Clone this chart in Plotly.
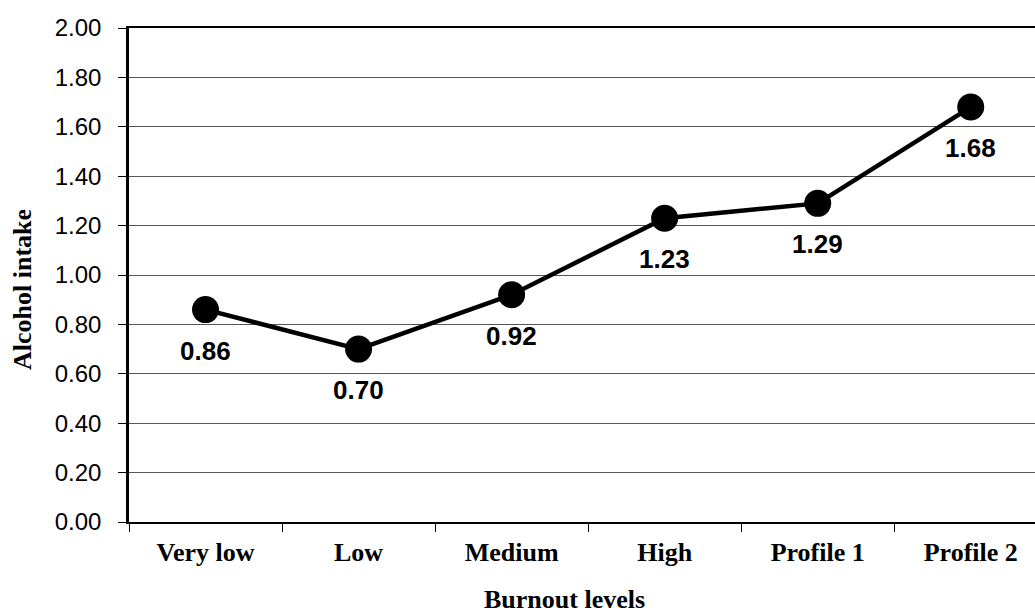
import plotly.graph_objects as go

# Burnout categories and mean alcohol intake per category
categories = ["Very low", "Low", "Medium", "High", "Profile 1", "Profile 2"]
alcohol_intake = [0.86, 0.70, 0.92, 1.23, 1.29, 1.68]
y_ticks = [0.0, 0.2, 0.4, 0.6, 0.8, 1.0, 1.2, 1.4, 1.6, 1.8, 2.0]
y_tick_labels = [f"{v:.2f}" for v in y_ticks]

SANS = "Arial, Liberation Sans, sans-serif"
SERIF = "Times New Roman, Liberation Serif, serif"

fig = go.Figure()
fig.add_trace(go.Scatter(
    x=categories,
    y=alcohol_intake,
    mode="lines+markers",
    line=dict(color="black", width=4.5),
    marker=dict(color="black", size=27),
    showlegend=False,
    hoverinfo="skip",
))

# Value labels beneath each point
for c, v in zip(categories, alcohol_intake):
    fig.add_annotation(
        x=c, y=v, text=f"<b>{v:.2f}</b>", showarrow=False,
        yshift=-41, font=dict(family=SANS, size=26, color="black"),
    )

# Axis titles (plot area spans x 129..1035, y 28..522)
fig.add_annotation(
    xref="paper", yref="paper", x=(564 - 129) / 906, y=-(599 - 522) / 494,
    xanchor="center", yanchor="middle",
    text="<b>Burnout levels</b>", showarrow=False,
    font=dict(family=SERIF, size=26, color="black"),
)
fig.add_annotation(
    xref="paper", yref="paper", x=-(129 - 22) / 906, y=(522 - 290) / 494,
    xanchor="center", yanchor="middle",
    text="<b>Alcohol intake</b>", textangle=-90, showarrow=False,
    font=dict(family=SERIF, size=26, color="black"),
)

fig.update_layout(
    width=1035, height=614,
    margin=dict(l=129, r=0, t=28, b=92),
    paper_bgcolor="white", plot_bgcolor="white",
    xaxis=dict(
        type="category",
        range=[-0.5, 5.42],
        showline=True, linecolor="black", linewidth=2, mirror=True,
        ticks="outside", tickson="boundaries", ticklen=8, tickcolor="black", tickwidth=1,
        showgrid=False, zeroline=False,
        tickfont=dict(family=SERIF, size=26, color="black", weight="bold"),
        ticklabelstandoff=6,
    ),
    yaxis=dict(
        range=[0, 2.0],
        tickvals=y_ticks, ticktext=y_tick_labels,
        showline=True, linecolor="black", linewidth=2.5,
        ticks="outside", ticklen=8, tickcolor="black", tickwidth=1,
        showgrid=True, gridcolor="#555555", gridwidth=1,
        zeroline=False,
        tickfont=dict(family=SANS, size=24, color="black"),
        ticklabelstandoff=12,
    ),
)

fig.write_html("out.html")
